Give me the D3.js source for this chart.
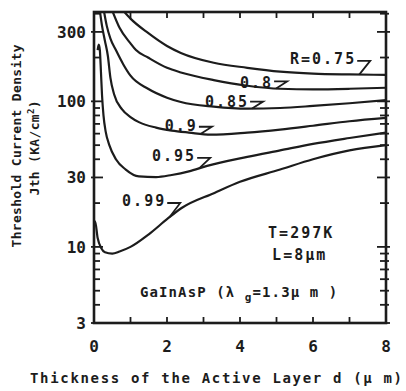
<!DOCTYPE html>
<html><head><meta charset="utf-8">
<script src="https://cdn.jsdelivr.net/npm/d3@7"></script>
<style>
html,body{margin:0;padding:0;background:#fff;}
svg{display:block;}
text{font-family:"DejaVu Sans Mono",monospace;font-weight:bold;fill:#1c1c1c;}
</style></head>
<body>
<svg id="c" width="406" height="391"></svg>
<script>
// ---- data ----
const xTickLabels = [0, 2, 4, 6, 8];
const yTickLabels = [3, 10, 30, 100, 300];
const seriesNames = ["R=0.75", "0.8", "0.85", "0.9", "0.95", "0.99"];
const d075 = [0.8,1.0,1.48,2.0,2.38,3.28,4.2,5.1,6.0,7.0,8.0];
const J075 = [420,370,295,240,215,184,170,160,155,153,152];
const d080 = [0.5,0.7,1.0,1.15,1.48,2.0,2.38,3.28,4.2,5.1,6.0,7.0,8.0];
const J080 = [420,320,250,225,200,170,158,140,128,122,121,122,124];
const d085 = [0.27,0.35,0.45,0.6,0.8,1.0,1.48,2.0,2.38,3.28,4.2,5.1,6.0,7.0,8.0];
const J085 = [420,330,270,225,180,150,122,106,99,92,89,90,93,97,102];
const d090 = [0.16,0.22,0.3,0.38,0.45,0.55,0.77,1.0,1.23,1.7,2.13,2.6,3.2,4.2,5.1,6.0,7.0,8.0];
const J090 = [420,330,260,205,145,112,88,78,72,66,63,61,59,61,64,68,73,77];
const d095 = [0.1,0.13,0.16,0.19,0.22,0.26,0.32,0.42,0.6,0.87,1.23,1.7,2.13,2.6,3.1,4.2,5.1,6.0,7.0,8.0];
const J095 = [225,245,225,160,110,80,62,50,40,34,30.5,30.2,31.2,33,36,41.5,46,51,56,61];
const d099 = [0.0,0.03,0.1,0.2,0.3,0.5,0.7,1.0,1.5,2.0,2.4,3.3,4.0,5.1,6.0,7.0,8.0];
const J099 = [14,15,11.5,9.8,9.2,9.0,9.3,10.0,12.2,15.5,18.5,23.5,28,34,40,46,50];
const seriesD = [d075,d080,d085,d090,d095,d099];
const seriesJ = [J075,J080,J085,J090,J095,J099];
const notes = ["T=297K", "L=8μm"];

// ---- layout ----
const svg = d3.select("#c");
const x = d3.scaleLinear().domain([0, 8]).range([94, 386]);
const y = d3.scaleLog().domain([3, 411]).range([323, 12]);
const ink = "#1c1c1c";

svg.append("defs").append("clipPath").attr("id","clip")
  .append("rect").attr("x",x(0)).attr("y",y(411)).attr("width",x(8)-x(0)).attr("height",y(3)-y(411));

// ticks
const minorY = [4,5,6,7,8,9,20,40,50,60,70,80,90,200,400];
const g = svg.append("g").attr("stroke", ink).attr("stroke-width", 1.8);
yTickLabels.forEach(v => {
  g.append("line").attr("x1", x(0)-3).attr("x2", x(0)+9).attr("y1", y(v)).attr("y2", y(v));
  g.append("line").attr("x1", x(8)-9).attr("x2", x(8)+4).attr("y1", y(v)).attr("y2", y(v));
});
minorY.forEach(v => {
  g.append("line").attr("x1", x(0)).attr("x2", x(0)+6).attr("y1", y(v)).attr("y2", y(v));
  g.append("line").attr("x1", x(8)-6).attr("x2", x(8)+3).attr("y1", y(v)).attr("y2", y(v));
});
d3.range(1, 8).forEach(v => {
  g.append("line").attr("x1", x(v)).attr("x2", x(v)).attr("y1", y(3)).attr("y2", y(3)-6);
  g.append("line").attr("x1", x(v)).attr("x2", x(v)).attr("y1", y(411)).attr("y2", y(411)+6);
});

// frame
svg.append("rect").attr("x", x(0)).attr("y", y(411)).attr("width", x(8)-x(0)).attr("height", y(3)-y(411))
  .attr("fill","none").attr("stroke", ink).attr("stroke-width", 2.6);

// tick labels
svg.selectAll(".yl").data(yTickLabels).enter().append("text")
  .attr("x", 86).attr("y", d => y(d)).attr("dy", "0.36em").attr("text-anchor","end")
  .attr("font-size", 16).text(d => d);
svg.selectAll(".xl").data(xTickLabels).enter().append("text")
  .attr("x", d => x(d)).attr("y", 352).attr("text-anchor","middle")
  .attr("font-size", 16).text(d => d);

// curves
const line = d3.line().x(p => x(p[0])).y(p => y(p[1])).curve(d3.curveMonotoneX);
const cg = svg.append("g").attr("clip-path","url(#clip)");
seriesD.forEach((ds, i) => {
  cg.append("path").datum(ds.map((d, k) => [d, seriesJ[i][k]]))
    .attr("d", line).attr("fill","none").attr("stroke", ink).attr("stroke-width", 2.2)
    .attr("stroke-linejoin","round");
});

// labels with hook marks
function interp(ds, Js, d) {
  for (let k = 0; k < ds.length-1; k++) {
    if (d >= ds[k] && d <= ds[k+1]) {
      const t = (d-ds[k])/(ds[k+1]-ds[k]);
      return Math.exp(Math.log(Js[k])*(1-t) + Math.log(Js[k+1])*t);
    }
  }
  return Js[Js.length-1];
}
const labelPos = [[5.37,181],[4.0,123],[3.04,91.5],[1.94,62.6],[1.59,39],[0.77,19.1]];
seriesNames.forEach((nm, i) => {
  const tx = x(labelPos[i][0]), ty = y(labelPos[i][1]);
  const t = svg.append("text").attr("x", tx).attr("y", ty).attr("font-size", 15)
    .attr("letter-spacing", 2.0).text(nm);
  const w = t.node().getComputedTextLength();
  const bx = tx + w + 1;
  const tipD = x.invert(bx + 2);
  const tipY = y(interp(seriesD[i], seriesJ[i], tipD));
  const by = Math.min(ty - 3, tipY - 7);
  svg.append("path").attr("d", `M${bx},${by}L${bx+13},${by}L${bx+2},${tipY}`)
    .attr("fill","none").attr("stroke", ink).attr("stroke-width", 1.8);
});

// notes
svg.append("text").attr("x", x(4.77)).attr("y", y(11.5)).attr("font-size", 15).attr("letter-spacing", 2.0).text(notes[0]);
svg.append("text").attr("x", x(4.88)).attr("y", y(8.1)).attr("font-size", 15).attr("letter-spacing", 2.0).text(notes[1]);
const gt = svg.append("text").attr("x", x(1.26)).attr("y", y(4.5)).attr("font-size", 14).attr("letter-spacing", 1.1);
gt.append("tspan").text("GaInAsP (λ ");
gt.append("tspan").attr("dy", 4).attr("font-size", 11).text("g");
gt.append("tspan").attr("dy", -4).text("=1.3μ m )");

// axis titles
svg.append("text").attr("x", 216).attr("y", 383).attr("text-anchor","middle").attr("font-size", 14)
  .attr("textLength", 372).attr("lengthAdjust","spacing").text("Thickness of the Active Layer  d (μ m)");
svg.append("text").attr("transform","translate(21,146) rotate(-90)").attr("text-anchor","middle")
  .attr("font-size", 13).attr("textLength", 203).attr("lengthAdjust","spacing").text("Threshold Current Density");
const t2 = svg.append("text").attr("transform","translate(39,148) rotate(-90)").attr("text-anchor","middle")
  .attr("font-size", 13).attr("textLength", 95).attr("lengthAdjust","spacing");
t2.append("tspan").text("Jth (KA/cm");
t2.append("tspan").attr("dy", -5).attr("font-size", 9).text("2");
t2.append("tspan").attr("dy", 5).text(")");
</script>
</body></html>
